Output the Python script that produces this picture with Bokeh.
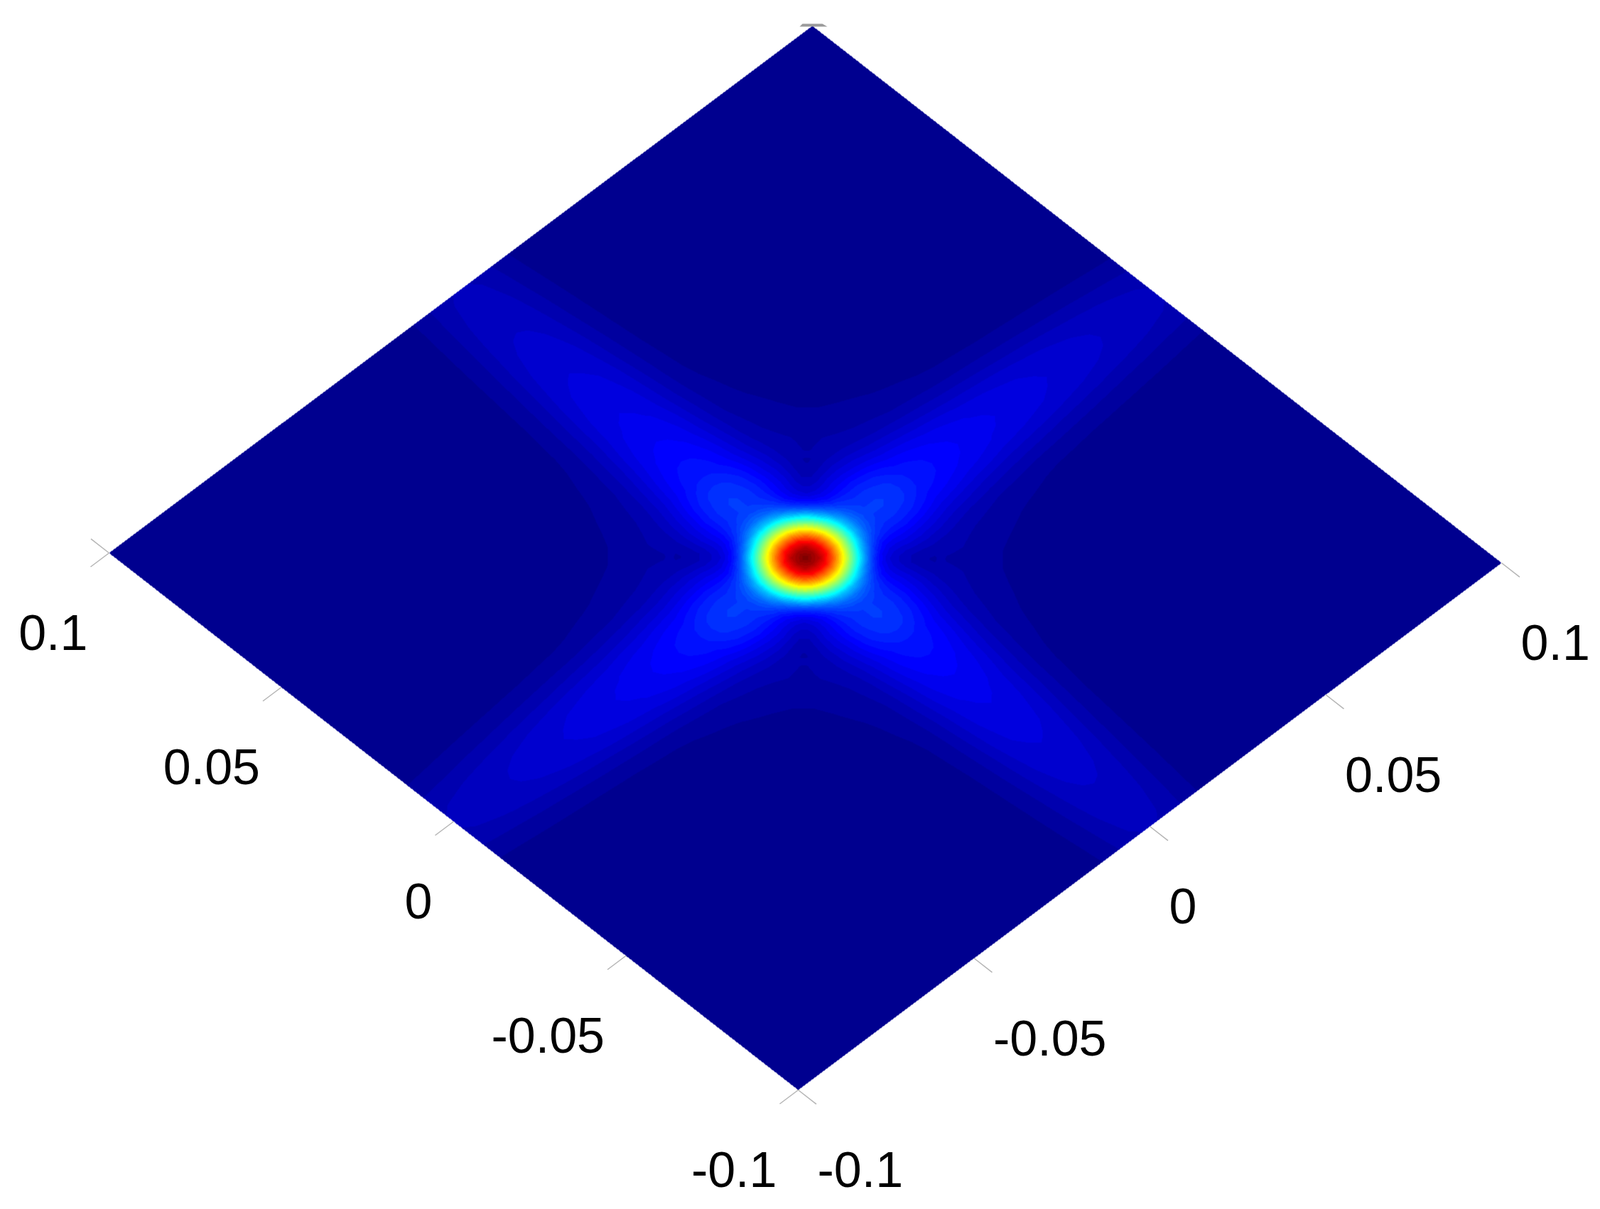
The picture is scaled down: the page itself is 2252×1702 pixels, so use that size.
import numpy as np
from bokeh.plotting import figure
from bokeh.models import LinearColorMapper, ColumnDataSource
from bokeh.core.properties import value
from bokeh.embed import file_html
from bokeh.resources import INLINE

# data: distance from centre along each axis (surface is read as mirror-symmetric)
grid_abs = [0, .002, .004, .006, .008, .010, .012, .014, .016, .018, .021, .025, .03, .04, .05, .065, .08, .1]
row_00 = [1.00,.96,.88,.75,.60,.45,.31,.23,.19,.175,.175,.165,.14,.115,.098,.082,.066,.048]
row_01 = [.96,.94,.86,.73,.58,.43,.30,.22,.185,.17,.17,.162,.138,.113,.096,.08,.065,.047]
row_02 = [.88,.86,.78,.66,.52,.38,.26,.20,.17,.16,.16,.152,.13,.108,.092,.077,.062,.045]
row_03 = [.75,.73,.66,.56,.43,.30,.21,.165,.15,.145,.145,.138,.118,.098,.084,.07,.056,.04]
row_04 = [.60,.58,.52,.43,.33,.22,.155,.125,.12,.122,.125,.118,.102,.085,.072,.06,.047,.034]
row_05 = [.45,.43,.38,.30,.22,.15,.11,.095,.095,.10,.10,.095,.083,.068,.058,.047,.037,.026]
row_06 = [.31,.30,.26,.21,.155,.11,.08,.07,.072,.078,.08,.076,.066,.054,.045,.036,.028,.02]
row_07 = [.23,.22,.20,.165,.125,.095,.07,.055,.05,.055,.06,.058,.05,.04,.033,.026,.02,.014]
row_08 = [.19,.185,.17,.15,.12,.095,.072,.05,.038,.038,.044,.044,.04,.03,.024,.018,.014,.009]
row_09 = [.175,.17,.16,.145,.122,.10,.078,.055,.038,.03,.033,.036,.032,.023,.017,.012,.009,.005]
row_10 = [.175,.17,.16,.145,.125,.10,.08,.06,.044,.033,.03,.03,.025,.017,.012,.008,.005,.003]
row_11 = [.165,.162,.152,.138,.118,.095,.076,.058,.044,.036,.03,.025,.018,.011,.007,.005,.003,.001]
row_12 = [.14,.138,.13,.118,.102,.083,.066,.05,.04,.032,.025,.018,.011,.005,.003,.002,.001,0]
row_13 = [.115,.113,.108,.098,.085,.068,.054,.04,.03,.023,.017,.011,.005,.002,0,0,0,0]
row_14 = [.098,.096,.092,.084,.072,.058,.045,.033,.024,.017,.012,.007,.003,0,0,0,0,0]
row_15 = [.082,.08,.077,.07,.06,.047,.036,.026,.018,.012,.008,.005,.002,0,0,0,0,0]
row_16 = [.066,.065,.062,.056,.047,.037,.028,.02,.014,.009,.005,.003,.001,0,0,0,0,0]
row_17 = [.048,.047,.045,.04,.034,.026,.02,.014,.009,.005,.003,.001,0,0,0,0,0,0]
tick_values = [0.1, 0.05, 0, -0.05, -0.1]
tick_labels = ["0.1", "0.05", "0", "-0.05", "-0.1"]

rows = [row_00,row_01,row_02,row_03,row_04,row_05,row_06,row_07,row_08,row_09,
        row_10,row_11,row_12,row_13,row_14,row_15,row_16,row_17]
G = np.array(grid_abs)
M = np.array(rows, dtype=float)

H = 1702.0
bottom = np.array([1123.0, H-1534.0])
left = np.array([153.0, H-778.0])
right = np.array([2113.0, H-792.0])
Ea = (left-bottom)/0.2
Eb = (right-bottom)/0.2
origin = bottom + 0.1*Ea + 0.1*Eb

def project(a, b):
    return origin + a*Ea + b*Eb

# jet(64)
def jet(n=64):
    out = []
    for i in range(n):
        t = (i+1)/n
        r = np.clip(min(4*t-1.5, -4*t+4.5), 0, 1)
        g = np.clip(min(4*t-0.5, -4*t+3.5), 0, 1)
        b = np.clip(min(4*t+0.5, -4*t+2.5), 0, 1)
        out.append("#%02x%02x%02x" % (int(r*255), int(g*255), int(b*255)))
    return out

# raster of the surface in the plot's coordinates
xs = np.arange(140.0, 2126.0, 1.0)
ys = np.arange(H-1546.0, H-28.0, 1.0)
X, Y = np.meshgrid(xs+0.5, ys+0.5)
Minv = np.linalg.inv(np.column_stack([Ea, Eb]))
dx, dy = X-origin[0], Y-origin[1]
A = Minv[0,0]*dx + Minv[0,1]*dy
B = Minv[1,0]*dx + Minv[1,1]*dy
mask = (np.abs(A) <= 0.1) & (np.abs(B) <= 0.1)
aa, bb = np.clip(np.abs(A), 0, 0.1), np.clip(np.abs(B), 0, 0.1)
ia = np.clip(np.searchsorted(G, aa, side="right")-1, 0, len(G)-2)
ib = np.clip(np.searchsorted(G, bb, side="right")-1, 0, len(G)-2)
ta = (aa-G[ia])/(G[ia+1]-G[ia])
tb = (bb-G[ib])/(G[ib+1]-G[ib])
Z = (M[ia,ib]*(1-ta)*(1-tb) + M[ia+1,ib]*ta*(1-tb) + M[ia,ib+1]*(1-ta)*tb + M[ia+1,ib+1]*ta*tb)
Z = np.where(mask, Z, np.nan).astype(np.float32)

p = figure(width=2236, height=1686, x_range=(0, 2236), y_range=(16, 1702),
           output_backend="svg", toolbar_location=None, min_border=0,
           x_axis_location=None, y_axis_location=None, outline_line_color=None,
           background_fill_color="white", border_fill_color="white")
p.grid.visible = False

mapper = LinearColorMapper(palette=jet(64), low=0, high=1, nan_color="rgba(0,0,0,0)")
p.image(image=[Z], x=xs[0], y=ys[0], dw=xs[-1]-xs[0]+1, dh=ys[-1]-ys[0]+1, color_mapper=mapper)

# ticks
tick_len = 0.00525
x0s, y0s, x1s, y1s = [], [], [], []
for t in tick_values:
    s = project(t, -0.1); e = project(t, -0.1-tick_len)
    x0s.append(s[0]); y0s.append(s[1]); x1s.append(e[0]); y1s.append(e[1])
    s = project(-0.1, t); e = project(-0.1-tick_len, t)
    x0s.append(s[0]); y0s.append(s[1]); x1s.append(e[0]); y1s.append(e[1])
s = project(0.1, -0.1); e = project(0.1+tick_len, -0.1)
x0s.append(s[0]); y0s.append(s[1]); x1s.append(e[0]); y1s.append(e[1])
p.segment(x0s, y0s, x1s, y1s, line_color="#b4b4b4", line_width=1.5)

# flattened tick mark at the far corner
top = project(0.1, 0.1)
p.patch([top[0]-18, top[0]-14, top[0]+14, top[0]+21], [top[1]-1, top[1]+3, top[1]+3, top[1]-1],
        fill_color="#9a9a9a", line_color=None)

# labels
font_px = "70px"
src_l = ColumnDataSource(dict(x=[project(t,-0.1)[0]-30 for t in tick_values],
                              y=[project(t,-0.1)[1]-112 for t in tick_values], text=tick_labels))
src_r = ColumnDataSource(dict(x=[project(-0.1,t)[0]+27 for t in tick_values],
                              y=[project(-0.1,t)[1]-112 for t in tick_values], text=tick_labels))
p.text(x="x", y="y", text="text", source=src_l, text_align="right", text_baseline="middle",
       text_font=value("Liberation Sans"), text_font_size=font_px, text_color="black")
p.text(x="x", y="y", text="text", source=src_r, text_align="left", text_baseline="middle",
       text_font=value("Liberation Sans"), text_font_size=font_px, text_color="black")

open("out.html", "w").write(file_html(p, INLINE))
